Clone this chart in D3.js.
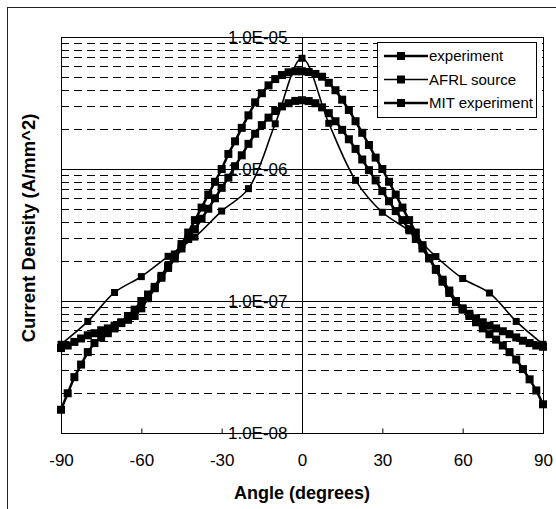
<!DOCTYPE html>
<html>
<head>
<meta charset="utf-8">
<script src="https://cdn.jsdelivr.net/npm/d3@7"></script>
<style>
  body { margin: 0; background: #fff; }
  svg { display: block; font-family: "Liberation Sans", Arial, sans-serif; }
</style>
</head>
<body>
<div id="chart"></div>
<script>
// angles for the two dense series (every 2.5 degrees)
var angles = d3.range(-90, 90.01, 2.5);

// "experiment" - outer, higher peak
var experiment = [
  1.5e-8, 2.0e-8, 2.65e-8, 3.3e-8, 4.1e-8, 4.8e-8, 5.3e-8, 5.7e-8, 6.2e-8, 6.9e-8, 7.7e-8, 8.6e-8,
  1.0e-7, 1.12e-7, 1.28e-7, 1.55e-7, 1.85e-7, 2.25e-7, 2.7e-7, 3.3e-7, 4.1e-7, 5.1e-7, 6.4e-7, 8.0e-7,
  1.0e-6, 1.3e-6, 1.62e-6, 2.05e-6, 2.55e-6, 3.2e-6, 3.75e-6, 4.3e-6, 4.8e-6, 5.15e-6, 5.4e-6, 5.5e-6,
  5.5e-6,
  5.43e-6, 5.25e-6, 5.0e-6, 4.5e-6, 3.95e-6, 3.35e-6, 2.8e-6, 2.3e-6, 1.88e-6, 1.52e-6, 1.22e-6, 1.0e-6,
  8.0e-7, 6.4e-7, 5.1e-7, 4.1e-7, 3.3e-7, 2.65e-7, 2.12e-7, 1.72e-7, 1.4e-7, 1.15e-7, 9.8e-8, 8.6e-8,
  7.7e-8, 6.9e-8, 6.2e-8, 5.6e-8, 5.1e-8, 4.6e-8, 4.1e-8, 3.6e-8, 3.05e-8, 2.55e-8, 2.1e-8, 1.65e-8
];

// "MIT experiment" - inner, flat top, flat tails
var mitExperiment = [
  4.4e-8, 4.6e-8, 4.9e-8, 5.2e-8, 5.5e-8, 5.7e-8, 6.0e-8, 6.2e-8, 6.5e-8, 6.8e-8, 7.2e-8, 7.7e-8,
  8.8e-8, 1.05e-7, 1.25e-7, 1.5e-7, 1.78e-7, 2.1e-7, 2.5e-7, 2.95e-7, 3.5e-7, 4.2e-7, 5.0e-7, 6.0e-7,
  7.2e-7, 8.6e-7, 1.05e-6, 1.27e-6, 1.55e-6, 1.85e-6, 2.15e-6, 2.45e-6, 2.75e-6, 2.98e-6, 3.15e-6, 3.28e-6,
  3.32e-6,
  3.27e-6, 3.15e-6, 2.93e-6, 2.65e-6, 2.3e-6, 1.98e-6, 1.68e-6, 1.42e-6, 1.18e-6, 9.8e-7, 8.2e-7, 6.8e-7,
  5.7e-7, 4.8e-7, 4.1e-7, 3.5e-7, 2.95e-7, 2.5e-7, 2.1e-7, 1.75e-7, 1.45e-7, 1.2e-7, 1.0e-7, 8.8e-8,
  8.0e-8, 7.4e-8, 6.9e-8, 6.5e-8, 6.2e-8, 5.9e-8, 5.6e-8, 5.3e-8, 5.0e-8, 4.8e-8, 4.6e-8, 4.5e-8
];

// "AFRL source" - sparse points, sharp peak
var afrlAngles = [-90, -80, -70, -60, -50, -40, -30, -20, -10, 0, 10, 20, 30, 40, 50, 60, 70, 80, 90];
var afrlSource = [4.7e-8, 7.0e-8, 1.16e-7, 1.53e-7, 2.18e-7, 3.05e-7, 4.8e-7, 7.1e-7, 2.2e-6, 6.9e-6,
                  2.22e-6, 8.2e-7, 4.7e-7, 3.4e-7, 2.17e-7, 1.48e-7, 1.15e-7, 7.0e-8, 4.7e-8];

var xTicks = [-90, -60, -30, 0, 30, 60, 90];
var yTicks = [1e-8, 1e-7, 1e-6, 1e-5];
var yTickLabels = ["1.0E-08", "1.0E-07", "1.0E-06", "1.0E-05"];
var legendNames = ["experiment", "AFRL source", "MIT experiment"];

var width = 556, height = 509;
var plotLeft = 61, plotRight = 543, plotTop = 37, plotBottom = 433;

var svg = d3.select("#chart").append("svg")
  .attr("width", width)
  .attr("height", height);

// outer frame
svg.append("rect")
  .attr("x", 7.5).attr("y", 7.5)
  .attr("width", 560).attr("height", 520)
  .attr("fill", "none").attr("stroke", "#222").attr("stroke-width", 1);

var x = d3.scaleLinear().domain([-90, 90]).range([plotLeft, plotRight]);
var y = d3.scaleLog().domain([1e-8, 1e-5]).range([plotBottom, plotTop]);

// minor grid (dashed)
var minor = [];
[1e-8, 1e-7, 1e-6].forEach(function (d) {
  for (var k = 2; k <= 9; k++) minor.push(d * k);
});
svg.append("g").selectAll("line")
  .data(minor)
  .enter().append("line")
  .attr("x1", plotLeft).attr("x2", plotRight)
  .attr("y1", function (d) { return Math.round(y(d)) + 0.5; })
  .attr("y2", function (d) { return Math.round(y(d)) + 0.5; })
  .attr("stroke", "#000")
  .attr("stroke-dasharray", "8,5");

// major grid
svg.append("g").selectAll("line")
  .data(yTicks)
  .enter().append("line")
  .attr("x1", plotLeft).attr("x2", plotRight)
  .attr("y1", function (d) { return Math.round(y(d)) + 0.5; })
  .attr("y2", function (d) { return Math.round(y(d)) + 0.5; })
  .attr("stroke", "#000");

// plot border
svg.append("rect")
  .attr("x", plotLeft + 0.5).attr("y", plotTop + 0.5)
  .attr("width", plotRight - plotLeft).attr("height", plotBottom - plotTop)
  .attr("fill", "none").attr("stroke", "#000");

// x axis at bottom, ticks pointing up
var xAxis = svg.append("g")
  .attr("transform", "translate(0," + (plotBottom + 0.5) + ")")
  .call(d3.axisBottom(x).tickValues(xTicks).tickSize(-5).tickPadding(20).tickSizeOuter(0)
    .tickFormat(function (d) { return String(d); }));
xAxis.select(".domain").remove();
xAxis.selectAll("text").style("font-size", "17px").attr("fill", "#000");

// y axis through x = 0
var yAxis = svg.append("g")
  .attr("transform", "translate(" + (Math.round(x(0)) + 0.5) + ",0)")
  .call(d3.axisLeft(y).tickValues(yTicks).tickSize(4).tickPadding(11)
    .tickFormat(function (d, i) { return yTickLabels[i]; }));
yAxis.select(".domain").attr("d", "M0," + plotTop + "V" + plotBottom);
yAxis.selectAll("text").style("font-size", "17px").attr("fill", "#000");

// series
var line = d3.line()
  .x(function (d) { return x(d[0]); })
  .y(function (d) { return y(d[1]); });

var series = [
  { pts: d3.zip(angles, experiment), w: 2.5, m: 8, curve: d3.curveLinear },
  { pts: d3.zip(afrlAngles, afrlSource), w: 1.6, m: 7, curve: d3.curveCatmullRom },
  { pts: d3.zip(angles, mitExperiment), w: 2.5, m: 8, curve: d3.curveLinear }
];

series.forEach(function (s) {
  svg.append("path")
    .datum(s.pts)
    .attr("d", line.curve(s.curve))
    .attr("fill", "none")
    .attr("stroke", "#000")
    .attr("stroke-width", s.w);
  svg.append("g").selectAll("rect")
    .data(s.pts)
    .enter().append("rect")
    .attr("x", function (d) { return x(d[0]) - s.m / 2; })
    .attr("y", function (d) { return y(d[1]) - s.m / 2; })
    .attr("width", s.m).attr("height", s.m)
    .attr("fill", "#000");
});

// legend
var legend = svg.append("g");
legend.append("rect")
  .attr("x", 377.5).attr("y", 42.5)
  .attr("width", 159).attr("height", 75)
  .attr("fill", "#fff").attr("stroke", "#000");
legendNames.forEach(function (name, i) {
  var ly = 56 + i * 23.5;
  legend.append("line")
    .attr("x1", 384).attr("x2", 428)
    .attr("y1", ly).attr("y2", ly)
    .attr("stroke", "#000")
    .attr("stroke-width", series[i].w);
  legend.append("rect")
    .attr("x", 401 - 4).attr("y", ly - 4)
    .attr("width", 8).attr("height", 8)
    .attr("fill", "#000");
  legend.append("text")
    .attr("x", 429).attr("y", ly)
    .attr("dy", "0.35em")
    .style("font-size", "15px")
    .text(name);
});

// axis titles
svg.append("text")
  .attr("x", x(0)).attr("y", 499)
  .attr("text-anchor", "middle")
  .style("font-size", "18px").style("font-weight", "bold")
  .text("Angle (degrees)");

svg.append("text")
  .attr("transform", "translate(35," + 228 + ") rotate(-90)")
  .attr("text-anchor", "middle")
  .style("font-size", "18.5px").style("font-weight", "bold")
  .text("Current Density (A/mm^2)");
</script>
</body>
</html>
